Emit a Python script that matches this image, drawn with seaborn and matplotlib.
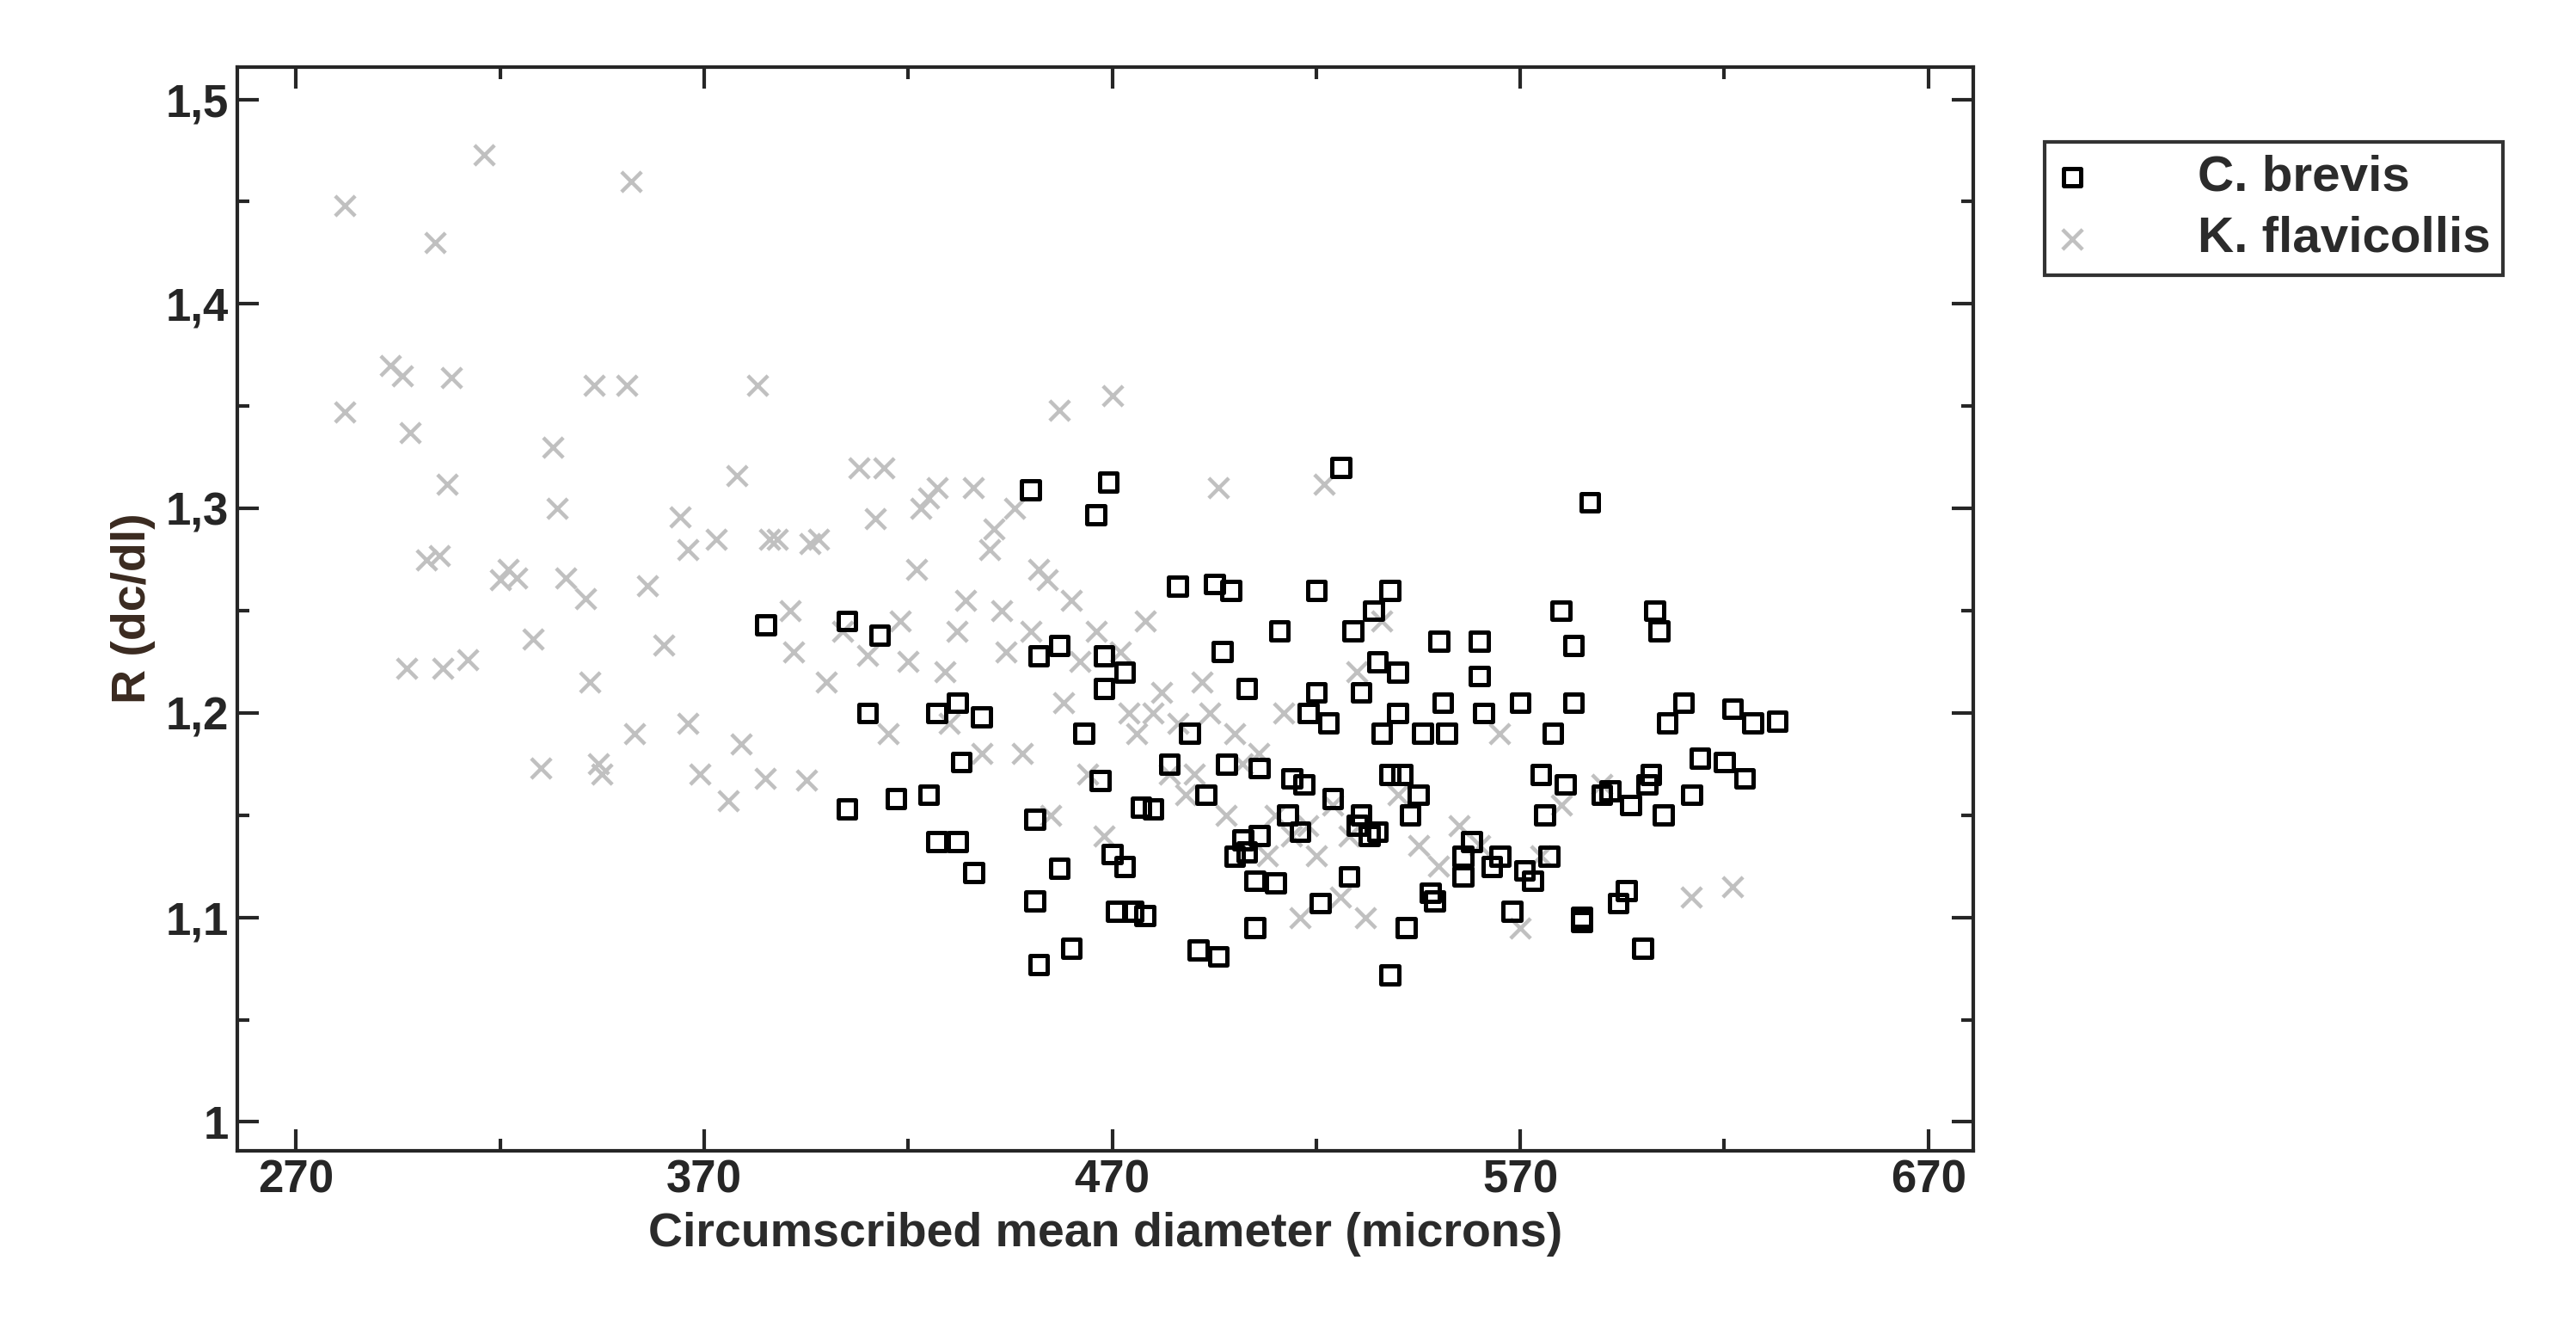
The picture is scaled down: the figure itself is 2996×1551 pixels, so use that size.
import matplotlib
matplotlib.use("Agg")
import matplotlib.pyplot as plt
import matplotlib.ticker as mticker
import pandas as pd
import seaborn as sns

# C. brevis: (diameter, R)
brevis_x = [385, 405, 413, 410, 405, 417, 425, 427, 432, 427, 432, 433, 436, 438, 450, 452, 457, 451,
            451, 452, 457, 460, 463, 466, 469, 468, 468, 467, 470, 471, 473, 475, 473, 477, 478, 480,
            484, 486, 489, 491, 493, 495, 496, 497, 499, 498, 500, 502, 503, 503, 505, 505, 506, 506,
            510, 511, 513, 514, 516, 517, 518, 520, 520, 521, 523, 524, 526, 528, 529, 530, 531, 531,
            533, 534, 535, 535, 536, 538, 538, 538, 540, 540, 541, 542, 543, 545, 546, 548, 549, 550,
            551, 552, 556, 556, 558, 560, 560, 561, 563, 565, 568, 570, 571, 573, 575, 576, 577, 578,
            580, 581, 583, 583, 585, 585, 587, 590, 592, 594, 596, 597, 600, 601, 602, 603, 604, 605,
            606, 610, 612, 614, 620, 622, 625, 627, 633]
brevis_y = [1.243, 1.245, 1.238, 1.200, 1.153, 1.158, 1.160, 1.137, 1.137, 1.200, 1.205, 1.176, 1.122,
            1.198, 1.309, 1.228, 1.233, 1.148, 1.108, 1.077, 1.124, 1.085, 1.190, 1.297, 1.313, 1.228,
            1.212, 1.167, 1.131, 1.103, 1.125, 1.103, 1.220, 1.154, 1.101, 1.153, 1.175, 1.262, 1.190,
            1.084, 1.160, 1.263, 1.081, 1.230, 1.260, 1.175, 1.130, 1.138, 1.132, 1.212, 1.095, 1.118,
            1.140, 1.173, 1.117, 1.240, 1.150, 1.168, 1.142, 1.165, 1.200, 1.210, 1.260, 1.107, 1.195,
            1.158, 1.320, 1.120, 1.240, 1.145, 1.150, 1.210, 1.140, 1.250, 1.225, 1.142, 1.190, 1.170,
            1.072, 1.260, 1.220, 1.200, 1.170, 1.095, 1.150, 1.160, 1.190, 1.112, 1.108, 1.235, 1.205,
            1.190, 1.130, 1.120, 1.137, 1.235, 1.218, 1.200, 1.125, 1.130, 1.103, 1.205, 1.123, 1.118,
            1.170, 1.150, 1.130, 1.190, 1.250, 1.165, 1.205, 1.233, 1.100, 1.098, 1.303, 1.160, 1.162,
            1.107, 1.113, 1.155, 1.085, 1.165, 1.170, 1.250, 1.240, 1.150, 1.195, 1.205, 1.160, 1.178,
            1.176, 1.202, 1.168, 1.195, 1.196]

# K. flavicollis
flav_x = [282, 282, 293, 296, 297, 298, 302, 304, 305, 306, 307, 308, 312, 316, 320, 322, 324, 328,
          330, 333, 334, 336, 341, 342, 343, 344, 345, 351, 352, 353, 356, 360, 364, 366, 366, 369,
          373, 376, 378, 379, 383, 385, 386, 388, 391, 392, 395, 396, 398, 400, 404, 408, 410, 412,
          414, 415, 418, 420, 422, 423, 425, 427, 429, 430, 432, 434, 436, 438, 440, 441, 443, 444,
          446, 448, 450, 452, 454, 455, 457, 458, 460, 462, 464, 466, 468, 470, 472, 474, 476, 478,
          480, 482, 484, 486, 488, 490, 492, 494, 496, 498, 500, 502, 506, 508, 510, 512, 514, 516,
          518, 520, 522, 524, 526, 528, 530, 532, 536, 540, 545, 550, 555, 560, 565, 570, 575, 580,
          590, 612, 622]
flav_y = [1.448, 1.347, 1.370, 1.365, 1.222, 1.337, 1.275, 1.430, 1.277, 1.222, 1.312, 1.364, 1.226,
          1.473, 1.265, 1.270, 1.266, 1.236, 1.173, 1.330, 1.300, 1.266, 1.256, 1.215, 1.360, 1.175,
          1.170, 1.360, 1.460, 1.190, 1.262, 1.233, 1.296, 1.280, 1.195, 1.170, 1.285, 1.157, 1.316,
          1.185, 1.360, 1.168, 1.285, 1.285, 1.250, 1.230, 1.167, 1.283, 1.285, 1.215, 1.240, 1.320,
          1.228, 1.295, 1.320, 1.190, 1.245, 1.225, 1.270, 1.300, 1.305, 1.310, 1.220, 1.195, 1.240,
          1.255, 1.310, 1.180, 1.280, 1.290, 1.250, 1.230, 1.300, 1.180, 1.240, 1.270, 1.265, 1.150,
          1.348, 1.205, 1.255, 1.225, 1.170, 1.240, 1.140, 1.355, 1.230, 1.200, 1.190, 1.245, 1.200,
          1.210, 1.170, 1.195, 1.160, 1.170, 1.215, 1.200, 1.310, 1.150, 1.190, 1.175, 1.180, 1.130,
          1.150, 1.200, 1.140, 1.100, 1.145, 1.130, 1.312, 1.155, 1.110, 1.140, 1.220, 1.100, 1.245,
          1.160, 1.135, 1.125, 1.145, 1.135, 1.190, 1.095, 1.130, 1.155, 1.165, 1.110, 1.115]

sns.set_style("ticks")
plt.rcParams["font.family"] = ["Liberation Sans", "DejaVu Sans"]

df = pd.concat([
    pd.DataFrame({"d": brevis_x, "r": brevis_y, "sp": "C. brevis"}),
    pd.DataFrame({"d": flav_x, "r": flav_y, "sp": "K. flavicollis"}),
])

fig = plt.figure(figsize=(14.98, 7.755), dpi=200)
ax = fig.add_axes([0.092, 0.1375, 0.674, 0.8125])

sub = df[df["sp"] == "K. flavicollis"]
sns.scatterplot(data=sub, x="d", y="r", marker="x", s=70, color="#c0c0c0",
                linewidth=1.6, ax=ax, label="K. flavicollis", zorder=2)
sub = df[df["sp"] == "C. brevis"]
sns.scatterplot(data=sub, x="d", y="r", marker="s", s=55, facecolor="none",
                edgecolor="black", linewidth=1.8, ax=ax, label="C. brevis", zorder=3)

ax.set_xlim(255.5, 681)
ax.set_ylim(0.986, 1.516)
ax.xaxis.set_major_locator(mticker.FixedLocator([270, 370, 470, 570, 670]))
ax.xaxis.set_minor_locator(mticker.FixedLocator([320, 420, 520, 620]))
ax.yaxis.set_major_locator(mticker.MultipleLocator(0.1))
ax.yaxis.set_minor_locator(mticker.MultipleLocator(0.05))
ax.xaxis.set_major_formatter(mticker.FuncFormatter(lambda v, _: f"{v:.0f}"))
ax.yaxis.set_major_formatter(mticker.FuncFormatter(
    lambda v, _: "1" if abs(v - 1) < 1e-6 else f"{v:.1f}".replace(".", ",")))
ax.tick_params(which="both", direction="in", top=True, right=True, width=1.5)
ax.tick_params(which="major", length=9, labelsize=19)
ax.tick_params(which="minor", length=5)
for t in ax.get_xticklabels() + ax.get_yticklabels():
    t.set_fontweight("bold")
for s in ax.spines.values():
    s.set_linewidth(1.5)

ax.set_xlabel("Circumscribed mean diameter (microns)", fontsize=20, fontweight="bold",
              color="#2b2b2b", labelpad=4)
ax.set_ylabel("R (dc/dl)", fontsize=20, fontweight="bold", color="#3a2a20")

h, l = ax.get_legend_handles_labels()
order = [l.index("C. brevis"), l.index("K. flavicollis")]
leg = ax.legend([h[i] for i in order], [l[i] for i in order], loc="upper left",
                bbox_to_anchor=(0.784, 0.9125), bbox_transform=fig.transFigure,
                fontsize=21, frameon=True, fancybox=False, edgecolor="black",
                handletextpad=2.2, borderpad=0.25, handlelength=0.6, labelspacing=0.3)
leg.get_frame().set_linewidth(1.5)
for t in leg.get_texts():
    t.set_fontweight("bold")
    t.set_color("#2b2b2b")

fig.savefig("out.png", dpi=200)
